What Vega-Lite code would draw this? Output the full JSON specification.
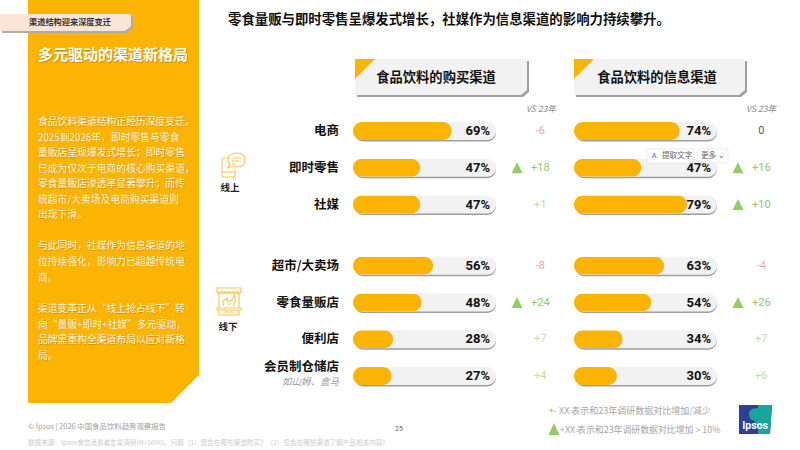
{
"$schema":"https://vega.github.io/schema/vega-lite/v6.json",
"width":800,"height":450,"padding":0,"autosize":"none",
"background":"white",
"config":{"view":{"stroke":null},"text":{"font":"Noto Sans CJK SC","baseline":"middle"}},
"data":{"values":[{"k":1}]},
"layer":[
{"mark":{"type":"point","shape":"M28,0 L199,0 L199,375 L171,403 L28,403 Z","size":4,"x":0,"y":0,"filled":true,"fill":"#FBB304","opacity":1,"strokeWidth":0},"encoding":{}},
{"mark":{"type":"point","shape":"M2,16 L133,16 L133,28 L127,33 L2,33 Z","size":4,"x":0,"y":0,"filled":true,"fill":"#b0aca8","opacity":1,"strokeWidth":0},"encoding":{}},
{"mark":{"type":"point","shape":"M0,14 L131,14 L131,26 L125,31 L0,31 Z","size":4,"x":0,"y":0,"filled":true,"fill":"#FCE4D6","opacity":1,"strokeWidth":0},"encoding":{}},
{"mark":{"type":"text","text":"渠道结构迎来深度变迁","x":29,"y":23,"align":"left","fontSize":8.2,"fontWeight":"bold","color":"#333333"},"encoding":{}},
{"mark":{"type":"text","text":"多元驱动的渠道新格局","x":38.7,"y":55.7,"align":"left","fontSize":15,"fontWeight":"bold","color":"#c98f10"},"encoding":{}},
{"mark":{"type":"text","text":"多元驱动的渠道新格局","x":38,"y":55,"align":"left","fontSize":15,"fontWeight":"bold","color":"#ffffff"},"encoding":{}},
{"mark":{"type":"text","text":["食品饮料渠道结构正经历深度变迁。","2025到2026年，即时零售与零食","量贩店呈现爆发式增长；即时零售","已成为仅次于电商的核心购买渠道，","零食量贩店渗透率显著攀升；而传","统超市/大卖场及电商购买渠道则","出现下滑。"],"x":38.6,"y":122.6,"align":"left","fontSize":9.8,"lineHeight":15.5,"color":"#cf9410"},"encoding":{}},
{"mark":{"type":"text","text":["食品饮料渠道结构正经历深度变迁。","2025到2026年，即时零售与零食","量贩店呈现爆发式增长；即时零售","已成为仅次于电商的核心购买渠道，","零食量贩店渗透率显著攀升；而传","统超市/大卖场及电商购买渠道则","出现下滑。"],"x":38,"y":122,"align":"left","fontSize":9.8,"lineHeight":15.5,"color":"#fff6e0"},"encoding":{}},
{"mark":{"type":"text","text":["与此同时，社媒作为信息渠道的地","位持续强化，影响力已超越传统电","商。"],"x":38.6,"y":246.6,"align":"left","fontSize":9.8,"lineHeight":15.8,"color":"#cf9410"},"encoding":{}},
{"mark":{"type":"text","text":["与此同时，社媒作为信息渠道的地","位持续强化，影响力已超越传统电","商。"],"x":38,"y":246,"align":"left","fontSize":9.8,"lineHeight":15.8,"color":"#fff6e0"},"encoding":{}},
{"mark":{"type":"text","text":["渠道变革正从“线上抢占线下”转","向“量贩+即时+社媒”多元驱动，","品牌需重构全渠道布局以应对新格","局。"],"x":38.6,"y":309.6,"align":"left","fontSize":9.8,"lineHeight":15.7,"color":"#cf9410"},"encoding":{}},
{"mark":{"type":"text","text":["渠道变革正从“线上抢占线下”转","向“量贩+即时+社媒”多元驱动，","品牌需重构全渠道布局以应对新格","局。"],"x":38,"y":309,"align":"left","fontSize":9.8,"lineHeight":15.7,"color":"#fff6e0"},"encoding":{}},
{"mark":{"type":"text","text":"零食量贩与即时零售呈爆发式增长，社媒作为信息渠道的影响力持续攀升。","x":228,"y":20,"align":"left","fontSize":13.4,"fontWeight":"bold","color":"#111111"},"encoding":{}},

{"mark":{"type":"point","shape":"M357,61 L529,61 L529,92 L523,97 L357,97 Z M576,61 L747,61 L747,92 L741,97 L576,97 Z","size":4,"x":0,"y":0,"filled":true,"fill":"#a0a0a0","opacity":1,"strokeWidth":0},"encoding":{}},
{"mark":{"type":"point","shape":"M355,59 L527,59 L527,90 L521,95 L355,95 Z M574,59 L745,59 L745,90 L739,95 L574,95 Z","size":4,"x":0,"y":0,"filled":true,"fill":"#F2F2F2","opacity":1,"strokeWidth":0},"encoding":{}},
{"mark":{"type":"point","shape":"M355,59 L375,59 L355,79 Z M574,59 L594,59 L574,79 Z","size":4,"x":0,"y":0,"filled":true,"fill":"#FBB304","opacity":1,"strokeWidth":0},"encoding":{}},
{"mark":{"type":"text","text":"食品饮料的购买渠道","x":436,"y":78,"align":"center","fontSize":13.3,"fontWeight":"bold","color":"#111111"},"encoding":{}},
{"mark":{"type":"text","text":"食品饮料的信息渠道","x":657,"y":78,"align":"center","fontSize":13.3,"fontWeight":"bold","color":"#111111"},"encoding":{}},
{"mark":{"type":"text","text":"VS 23年","x":541,"y":109,"align":"center","fontSize":8.6,"fontStyle":"italic","color":"#8c8c8c"},"encoding":{}},
{"mark":{"type":"text","text":"VS 23年","x":761,"y":109,"align":"center","fontSize":8.6,"fontStyle":"italic","color":"#8c8c8c"},"encoding":{}},

{"mark":{"type":"point","shape":"M229,158 L224,158 Q222,158 222,160 L222,175 Q222,177 224,177 L233,177 Q235,177 235,175 L235,169 M222,172 L235,172 M237,153 Q245,153 245,160 Q245,167 237,167 Q234,167 232,166 L228,168 L230,164 Q228,162 228,160 Q228,153 237,153 Z M232,158 L241,158 M232,161 L239,161 M232,164 L236,164","size":4,"x":0,"y":0,"filled":false,"stroke":"#FBC64F","strokeWidth":1.1,"opacity":1},"encoding":{}},
{"mark":{"type":"text","text":"线上","x":230,"y":188,"align":"center","fontSize":9.5,"fontWeight":"bold","color":"#222222"},"encoding":{}},
{"mark":{"type":"point","shape":"M217,288 L241,288 L241,292 L217,292 Z M217,292 Q219,296 221,292 Q223,296 225,292 Q227,296 229,292 Q231,296 233,292 Q235,296 237,292 Q239,296 241,292 M219,293 L219,308 M239,293 L239,308 M217,308 L241,308 L241,310 L217,310 Z M219,310 L219,315 L239,315 L239,310 M224,312 L234,312 M224,306 Q221,301 226,299 Q229,297 227,301 Q233,302 234,295 Q237,301 233,306 M227,304 L231,304","size":4,"x":0,"y":0,"filled":false,"stroke":"#FBC64F","strokeWidth":1.1,"opacity":1},"encoding":{}},
{"mark":{"type":"text","text":"线下","x":228,"y":327,"align":"center","fontSize":9.5,"fontWeight":"bold","color":"#222222"},"encoding":{}},

{
"data":{"values":[
{"channel":"电商","panel":"购买渠道","share":0.69,"delta":-6,"deltaLabel":"-6"},
{"channel":"即时零售","panel":"购买渠道","share":0.47,"delta":18,"deltaLabel":"+18"},
{"channel":"社媒","panel":"购买渠道","share":0.47,"delta":1,"deltaLabel":"+1"},
{"channel":"超市/大卖场","panel":"购买渠道","share":0.56,"delta":-8,"deltaLabel":"-8"},
{"channel":"零食量贩店","panel":"购买渠道","share":0.48,"delta":24,"deltaLabel":"+24"},
{"channel":"便利店","panel":"购买渠道","share":0.28,"delta":7,"deltaLabel":"+7"},
{"channel":"会员制仓储店","panel":"购买渠道","share":0.27,"delta":4,"deltaLabel":"+4","note":"如山姆、盒马"},
{"channel":"电商","panel":"信息渠道","share":0.74,"delta":0,"deltaLabel":"0"},
{"channel":"即时零售","panel":"信息渠道","share":0.47,"delta":16,"deltaLabel":"+16"},
{"channel":"社媒","panel":"信息渠道","share":0.79,"delta":10,"deltaLabel":"+10"},
{"channel":"超市/大卖场","panel":"信息渠道","share":0.63,"delta":-4,"deltaLabel":"-4"},
{"channel":"零食量贩店","panel":"信息渠道","share":0.54,"delta":26,"deltaLabel":"+26"},
{"channel":"便利店","panel":"信息渠道","share":0.34,"delta":7,"deltaLabel":"+7"},
{"channel":"会员制仓储店","panel":"信息渠道","share":0.30,"delta":6,"deltaLabel":"+6"}
]},
"encoding":{"y":{"field":"channel","type":"nominal","axis":null,"scale":{"type":"point","padding":0,"range":[131,376],"domain":["电商","_1","_2","即时零售","_3","_4","社媒","_5","_6","_7","_8","超市/大卖场","_9","_10","零食量贩店","_11","_12","便利店","_13","_14","会员制仓储店"]}}},
"layer":[
{"transform":[{"filter":"datum.panel==='购买渠道' && datum.channel!=='会员制仓储店'"}],"mark":{"type":"text","x":339,"align":"right","fontSize":12.5,"fontWeight":"bold","color":"#111111"},"encoding":{"text":{"field":"channel"}}},
{"transform":[{"filter":"datum.panel==='购买渠道' && datum.channel==='会员制仓储店'"}],"mark":{"type":"text","x":339,"dy":-9,"align":"right","fontSize":12.5,"fontWeight":"bold","color":"#111111"},"encoding":{"text":{"field":"channel"}}},
{"transform":[{"filter":"isValid(datum.note)"}],"mark":{"type":"text","x":339,"dy":6,"align":"right","fontSize":9.5,"fontStyle":"italic","color":"#9a9a9a"},"encoding":{"text":{"field":"note"}}},
{
"transform":[{"filter":"datum.panel==='购买渠道'"}],
"encoding":{"x":{"field":"share","type":"quantitative","axis":null,"scale":{"domain":[0,1],"range":[353,496]}}},
"layer":[
{"mark":{"type":"bar","size":18,"cornerRadius":9,"color":"#9f9f9f","xOffset":1.2,"yOffset":1.5},"encoding":{"x":{"datum":0,"type":"quantitative"},"x2":{"datum":1}}},
{"mark":{"type":"bar","size":18,"cornerRadius":9,"color":"#F2F2F2"},"encoding":{"x":{"datum":0,"type":"quantitative"},"x2":{"datum":1}}},
{"mark":{"type":"bar","size":18,"cornerRadius":9,"color":"#FBB304"}},
{"mark":{"type":"text","align":"right","font":"Roboto","fontSize":13,"fontWeight":"bold","color":"#111111"},"encoding":{"x":{"datum":0.958,"type":"quantitative"},"text":{"field":"share","format":".0%"}}},
{"transform":[{"filter":"datum.delta>=10"}],"mark":{"type":"point","shape":"M0,-1 L1,1 L-1,1 Z","size":121,"filled":true,"fill":"#92CF63","opacity":1,"strokeWidth":0},"encoding":{"x":{"datum":1.147,"type":"quantitative"}}},
{"mark":{"type":"text","align":"center","font":"Roboto","fontSize":11},"encoding":{"x":{"datum":1.31,"type":"quantitative"},"text":{"field":"deltaLabel"},"color":{"condition":[{"test":"datum.delta>=10","value":"#8FCB63"},{"test":"datum.delta>0","value":"#B9DFA2"},{"test":"datum.delta<0","value":"#F4A6A6"}],"value":"#555555"}}}
]},
{
"transform":[{"filter":"datum.panel==='信息渠道'"}],
"encoding":{"x":{"field":"share","type":"quantitative","axis":null,"scale":{"domain":[0,1],"range":[574,717]}}},
"layer":[
{"mark":{"type":"bar","size":18,"cornerRadius":9,"color":"#9f9f9f","xOffset":1.2,"yOffset":1.5},"encoding":{"x":{"datum":0,"type":"quantitative"},"x2":{"datum":1}}},
{"mark":{"type":"bar","size":18,"cornerRadius":9,"color":"#F2F2F2"},"encoding":{"x":{"datum":0,"type":"quantitative"},"x2":{"datum":1}}},
{"mark":{"type":"bar","size":18,"cornerRadius":9,"color":"#FBB304"}},
{"mark":{"type":"text","align":"right","font":"Roboto","fontSize":13,"fontWeight":"bold","color":"#111111"},"encoding":{"x":{"datum":0.958,"type":"quantitative"},"text":{"field":"share","format":".0%"}}},
{"transform":[{"filter":"datum.delta>=10"}],"mark":{"type":"point","shape":"M0,-1 L1,1 L-1,1 Z","size":121,"filled":true,"fill":"#92CF63","opacity":1,"strokeWidth":0},"encoding":{"x":{"datum":1.147,"type":"quantitative"}}},
{"mark":{"type":"text","align":"center","font":"Roboto","fontSize":11},"encoding":{"x":{"datum":1.31,"type":"quantitative"},"text":{"field":"deltaLabel"},"color":{"condition":[{"test":"datum.delta>=10","value":"#8FCB63"},{"test":"datum.delta>0","value":"#B9DFA2"},{"test":"datum.delta<0","value":"#F4A6A6"}],"value":"#555555"}}}
]}
],
"resolve":{"scale":{"x":"independent"}}
},

{"mark":{"type":"rect","x":647,"x2":694,"y":149,"y2":163,"cornerRadius":2,"fill":"#ffffff","stroke":"#e4e4e4","strokeWidth":0.7},"encoding":{}},
{"mark":{"type":"rect","x":698,"x2":728,"y":149,"y2":163,"cornerRadius":2,"fill":"#ffffff","stroke":"#e4e4e4","strokeWidth":0.7},"encoding":{}},
{"mark":{"type":"text","text":"A","x":654,"y":156,"align":"center","font":"Roboto","fontSize":8,"color":"#7b5bd6"},"encoding":{}},
{"mark":{"type":"text","text":"提取文字","x":662,"y":156,"align":"left","fontSize":7.6,"color":"#666666"},"encoding":{}},
{"mark":{"type":"text","text":"更多 ⌄","x":701,"y":156,"align":"left","fontSize":7.6,"color":"#666666"},"encoding":{}},

{"mark":{"type":"text","text":"+","x":549,"y":411,"align":"left","font":"Roboto","fontSize":8.5,"color":"#92CF63"},"encoding":{}},
{"mark":{"type":"text","text":"-","x":554,"y":411,"align":"left","font":"Roboto","fontSize":8.5,"color":"#F08C8C"},"encoding":{}},
{"mark":{"type":"text","text":"XX 表示和23年调研数据对比增加/减少","x":559,"y":411,"align":"left","fontSize":9,"color":"#a6a6a6"},"encoding":{}},
{"mark":{"type":"point","shape":"M554,423 L559.5,435 L548.5,435 Z","size":4,"x":0,"y":0,"filled":true,"fill":"#92CF63","opacity":1,"strokeWidth":0},"encoding":{}},
{"mark":{"type":"text","text":"+XX 表示和23年调研数据对比增加 > 10%","x":560,"y":430,"align":"left","fontSize":8.9,"color":"#a6a6a6"},"encoding":{}},

{"mark":{"type":"point","shape":"M739,405 L772,405 L770,434 L739,434 Z","size":4,"x":0,"y":0,"filled":true,"fill":"#2E3F98","opacity":1,"strokeWidth":0},"encoding":{}},
{"mark":{"type":"point","shape":"M758,405 L772,405 L770,434 L758,434 Z M758,408 Q749,408 749,414 Q749,420 755,421 L755,425 L758,425 Z","size":4,"x":0,"y":0,"filled":true,"fill":"#16A79A","opacity":1,"strokeWidth":0},"encoding":{}},
{"mark":{"type":"text","text":"Ipsos","x":755,"y":426,"align":"center","font":"Roboto","fontSize":10.5,"fontWeight":"bold","color":"#ffffff"},"encoding":{}},

{"mark":{"type":"text","text":"© Ipsos | 2026 中国食品饮料趋势观察报告","x":28,"y":427,"align":"left","fontSize":7.4,"color":"#a0a0a0"},"encoding":{}},
{"mark":{"type":"text","text":"25","x":399,"y":429,"align":"center","font":"Roboto","fontSize":7,"color":"#666666"},"encoding":{}},
{"mark":{"type":"text","text":"数据来源：Ipsos食饮消费者定量调研(N=1600)。问题（1）您会在哪些渠道购买？（2）您会在哪些渠道了解产品相关内容?","x":28,"y":443,"align":"left","fontSize":6.6,"color":"#cccccc"},"encoding":{}}
]
}
